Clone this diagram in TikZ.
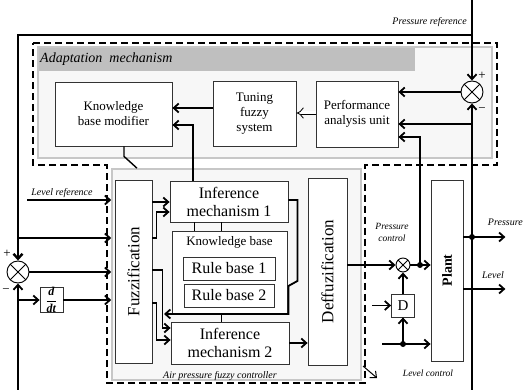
\documentclass[tikz,border=0pt]{standalone}
\usepackage{fontspec}
\setmainfont{Liberation Serif}
\usetikzlibrary{arrows.meta}
\begin{document}
\begin{tikzpicture}[
    x=1pt, y=-1pt,
    >={Straight Barb[length=5pt, width=9pt]},
    block/.style={rectangle, draw=black!80, line width=0.8pt, fill=white, inner sep=0pt, align=center, font=\fontsize{13}{15}\selectfont},
    bigtext/.style={font=\fontsize{16}{18}\selectfont},
    panel/.style={rectangle, draw=black!22, line width=1.6pt, fill=black!3, inner sep=0pt},
    summer/.style={circle, draw, line width=0.9pt, fill=white, inner sep=0pt, minimum size=#1,
        path picture={\draw[line width=0.8pt] (path picture bounding box.north west) -- (path picture bounding box.south east)
            (path picture bounding box.north east) -- (path picture bounding box.south west);}},
    conn/.style={line width=1.8pt},
    note/.style={font=\fontsize{10}{11}\selectfont\itshape, inner sep=0pt},
    sign/.style={font=\fontsize{13}{13}\selectfont, inner sep=0pt},
    junction/.style={circle, fill, inner sep=0pt, minimum size=6pt},
    boundary/.style={line width=1.8pt, dash pattern=on 7pt off 4pt}
]
    \useasboundingbox (0,0) rectangle (525,390);

    \draw[boundary] (33,43) -- (497,43) -- (497,165) -- (365,165) -- (365,383) -- (107,383) -- (107,165) -- (33,165) -- cycle;

    \node[panel, minimum width=454pt, minimum height=111pt] (adapt) at (265,102.5) {};
    \fill[black!25] (39,48) rectangle (415,71);
    \node[note, anchor=west, font=\fontsize{14}{16}\selectfont\itshape] (adapttitle) at (40,59.5) {Adaptation\ \ mechanism};
    \node[panel, minimum width=249pt, minimum height=211pt] (ctrl) at (236.5,274.5) {};
    \node[note, anchor=base] (ctrltitle) at (220,378) {Air pressure fuzzy controller};

    \node[block, minimum width=117pt, minimum height=64pt] (kbm) at (113.5,114) {Knowledge\\base modifier};
    \node[block, minimum width=83pt, minimum height=65pt] (tuning) at (254.5,113.5) {Tuning\\fuzzy\\system};
    \node[block, minimum width=82pt, minimum height=66pt] (perf) at (357,114) {Performance\\analysis unit};
    \node[summer=22pt] (psum) at (472,92) {};
    \node[sign] (pplus) at (482,76) {+};
    \node[sign] (pminus) at (482,110) {−};

    \node[block, minimum width=37pt, minimum height=183pt, font=\fontsize{17}{19}\selectfont] (fuzz) at (133.5,271.5) {\rotatebox{90}{Fuzzification}};
    \node[block, bigtext, minimum width=118pt, minimum height=41pt] (inf1) at (229,201.5) {Inference\\mechanism 1};
    \node[block, minimum width=115pt, minimum height=82pt] (kb) at (229.5,272) {};
    \node[anchor=base, font=\fontsize{13}{15}\selectfont] (kbtitle) at (229.5,246) {Knowledge base};
    \node[block, bigtext, minimum width=92pt, minimum height=23pt] (rb1) at (229,268.5) {Rule base 1};
    \node[block, bigtext, minimum width=90pt, minimum height=23pt] (rb2) at (229,295.5) {Rule base 2};
    \node[block, bigtext, minimum width=118pt, minimum height=42pt] (inf2) at (230,343) {Inference\\mechanism 2};
    \node[block, minimum width=39pt, minimum height=187pt, font=\fontsize{17}{19}\selectfont] (defuzz) at (327.5,271.5) {\rotatebox{90}{Deffuzification}};
    \node[block, minimum width=32pt, minimum height=181pt, font=\fontsize{14}{16}\selectfont\bfseries] (plant) at (447,270.5) {\rotatebox{90}{Plant}};
    \node[summer=14pt] (csum) at (403,265) {};
    \node[block, minimum width=23pt, minimum height=23pt, font=\fontsize{15}{17}\selectfont] (dblk) at (403,305.5) {D};

    \node[summer=22pt] (lsum) at (18,272) {};
    \node[sign] (lplus) at (7,254) {+};
    \node[sign] (lminus) at (6,291) {−};
    \node[block, minimum width=23pt, minimum height=24pt, font=\fontsize{12}{14}\selectfont] (ddt) at (51.5,300) {$\displaystyle\frac{\textbf{\textit{d}}}{\textbf{\textit{dt}}}$};

    \coordinate (pref) at (472,0);
    \coordinate (ptop) at (472,35);
    \draw[conn, ->] (pref) -- (psum.north);
    \node[note, anchor=base east] (preftext) at (467,25) {Pressure reference};
    \draw[line width=2.4pt, ->] (ptop) -| (lsum.north);

    \coordinate (lref) at (27,200);
    \draw[conn, ->] (lref) -- (lref -| ctrl.west);
    \node[note, anchor=base] (lreftext) at (62,196) {Level reference};
    \coordinate (lbr) at (18,238);
    \draw[conn, ->] (lbr) -- (lbr -| ctrl.west);
    \draw[conn, ->] (lsum.east) -- (lsum.east -| ctrl.west);
    \coordinate (lbot) at (18,390);
    \coordinate (dbr) at (18,300);
    \draw[conn, ->] (lbot) -- (lsum.south);
    \draw[conn, ->] (dbr) -- (ddt.west);
    \draw[conn, ->] (ddt.east) -- (ddt.east -| ctrl.west);

    \draw[conn, ->] (fuzz.east |- 0,202) -- (inf1.west |- 0,202);
    \draw[conn, ->] (fuzz.east |- 0,238) -- ++(4,0) |- (inf1.west |- 0,212);
    \draw[conn, ->] (fuzz.east |- 0,270) -- ++(10,0) |- (inf2.west |- 0,328);
    \draw[conn, ->] (fuzz.east |- 0,303) -- ++(4,0) |- (inf2.west |- 0,340);
    \draw[conn, ->] (inf1.east |- 0,200) -- ++(9,0) -- ++(0,81) -- ++(-9,5) |- (164,314);
    \draw[conn, ->] (inf2.east) -- (inf2.east -| defuzz.west);
    \draw[line width=0.8pt] (inf1.south -| 194,0) -- (kb.north -| 194,0);
    \draw[line width=0.8pt] (inf1.south -| 221,0) -- (kb.north -| 221,0);
    \draw[line width=0.8pt] (kb.south -| 221,0) -- (inf2.north -| 221,0);

    \draw[conn, ->] (inf1.north -| 193,0) |- (kbm.east |- 0,125);
    \draw[conn, ->] (tuning.west |- 0,108) -- (kbm.east |- 0,108);
    \draw[line width=0.8pt, double distance=3pt, -Implies] (perf.west |- 0,113) -- (tuning.east |- 0,113);
    \draw[conn, ->] (psum.west) -- (psum.west -| perf.east);
    \draw[line width=1.4pt] (kbm.south -| 124,0) -- ++(0,10) -- (ctrl.north -| 137,0);

    \coordinate (pjn) at (472,237);
    \coordinate (pbot) at (472,390);
    \draw[conn, ->] (plant.east |- pjn) -- ++(42,0);
    \node[note, anchor=base east] (pouttext) at (523,226) {Pressure};
    \draw[conn, ->] (pbot) -- (psum.south);
    \draw[conn, ->] (pbot |- 0,124) -- (perf.east |- 0,124);
    \draw[conn, ->] (plant.east |- 0,289) -- ++(42,0);
    \node[note, anchor=base] (louttext) at (493,279) {Level};

    \coordinate (cjn) at (420,265);
    \draw[conn, ->] (defuzz.east |- csum.west) -- (csum.west);
    \draw[conn, ->] (csum.east) -- (csum.east -| plant.west);
    \draw[conn, ->] (cjn) |- (perf.east |- 0,137);
    \node[note, align=center, font=\fontsize{9.5}{12}\selectfont\itshape] (pctltext) at (392,232) {Pressure\\control};

    \coordinate (din) at (372,305.5);
    \coordinate (lctl) at (382,344);
    \coordinate (ljn) at (403,344);
    \draw[conn, ->] (dblk.north) -- (csum.south);
    \draw[conn, ->] (din) -- (dblk.west);
    \draw[conn, ->] (lctl) -- (lctl -| plant.west);
    \draw[conn, ->] (ljn) -- (dblk.south);
    \node[note, font=\fontsize{9.5}{11}\selectfont\itshape] (lctltext) at (428,373) {Level control};
    \draw[line width=1pt, ->] (363,366) -- (377,378);

    \node[junction] (pdot) at (pjn) {};
    \node[junction] (cdot) at (cjn) {};
    \node[junction] (ldot) at (ljn) {};
\end{tikzpicture}
\end{document}
